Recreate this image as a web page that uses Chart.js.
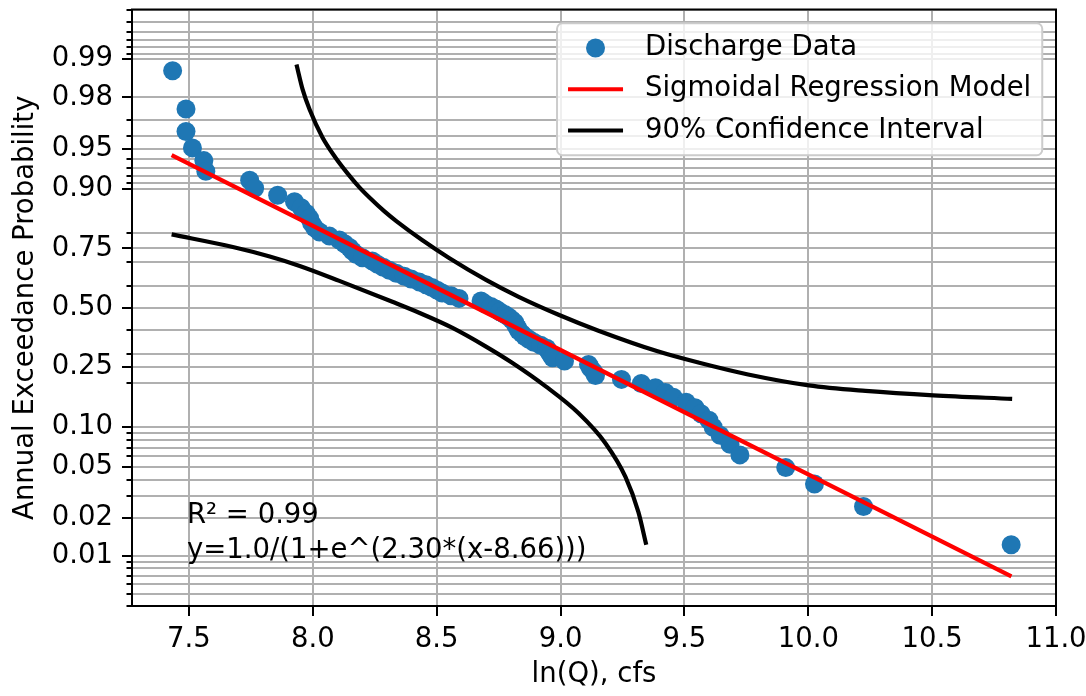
<!DOCTYPE html>
<html>
<head>
<meta charset="utf-8">
<title>Annual Exceedance Probability vs ln(Q)</title>
<script src="https://cdn.jsdelivr.net/npm/chart.js@4.4.1/dist/chart.umd.min.js"></script>
<style>
    html, body { margin: 0; padding: 0; background: #ffffff; }
    #wrap { position: relative; width: 1086px; height: 696px; }
</style>
</head>
<body>
<div id="wrap"><canvas id="aepChart"></canvas></div>
<script>
// Values
const lnQ = [
    7.434, 7.488, 7.488, 7.514, 7.560, 7.568, 7.745, 7.765, 7.858, 7.926,
    7.953, 7.973, 7.987, 7.995, 8.007, 8.027, 8.067, 8.107, 8.128, 8.148,
    8.160, 8.176, 8.200, 8.240, 8.260, 8.284, 8.309, 8.337, 8.369, 8.397,
    8.429, 8.457, 8.481, 8.502, 8.522, 8.558, 8.590, 8.679, 8.695, 8.719,
    8.739, 8.755, 8.775, 8.791, 8.803, 8.815, 8.819, 8.827, 8.831, 8.844,
    8.856, 8.872, 8.892, 8.920, 8.944, 8.952, 8.960, 8.968, 9.016, 9.113,
    9.121, 9.133, 9.141, 9.246, 9.326, 9.383, 9.423, 9.455, 9.507, 9.543,
    9.567, 9.599, 9.616, 9.644, 9.684, 9.724, 9.909, 10.025, 10.223, 10.819
];
const aep = [
    0.9877, 0.9753, 0.9630, 0.9506, 0.9383, 0.9259, 0.9136, 0.9012, 0.8889, 0.8765,
    0.8642, 0.8519, 0.8395, 0.8272, 0.8148, 0.8025, 0.7901, 0.7778, 0.7654, 0.7531,
    0.7407, 0.7284, 0.7160, 0.7037, 0.6914, 0.6790, 0.6667, 0.6543, 0.6420, 0.6296,
    0.6173, 0.6049, 0.5926, 0.5802, 0.5679, 0.5556, 0.5432, 0.5309, 0.5185, 0.5062,
    0.4938, 0.4815, 0.4691, 0.4568, 0.4444, 0.4321, 0.4198, 0.4074, 0.3951, 0.3827,
    0.3704, 0.3580, 0.3457, 0.3333, 0.3210, 0.3086, 0.2963, 0.2840, 0.2716, 0.2593,
    0.2469, 0.2346, 0.2222, 0.2099, 0.1975, 0.1852, 0.1728, 0.1605, 0.1481, 0.1358,
    0.1235, 0.1111, 0.0988, 0.0864, 0.0741, 0.0617, 0.0494, 0.0370, 0.0247, 0.0123
];

const modelLnQ = [7.43, 8.66, 10.82];
const modelAep = [0.944, 0.5, 0.0069];

const ciUpperLnQ = [7.934, 7.959, 7.987, 8.039, 8.091, 8.140, 8.188, 8.236, 8.288, 8.337, 8.441,
    8.550, 8.699, 8.831, 8.992, 9.153, 9.395, 9.556, 9.757, 10.002, 10.231, 10.505, 10.823];
const ciUpperAep = [0.9890, 0.9826, 0.9751, 0.9589, 0.9416, 0.9232, 0.9027, 0.8815, 0.8565, 0.8323, 0.7777,
    0.7153, 0.6262, 0.5505, 0.4678, 0.3956, 0.3079, 0.2664, 0.2255, 0.1922, 0.1768, 0.1651, 0.1564];

const ciLowerLnQ = [7.430, 7.677, 7.826, 7.947, 8.107, 8.321, 8.429, 8.562, 8.699, 8.803,
    8.940, 9.073, 9.181, 9.262, 9.314, 9.346];
const ciLowerAep = [0.7953, 0.7546, 0.7207, 0.6842, 0.6218, 0.5275, 0.4770, 0.4090, 0.3278, 0.2664,
    0.1893, 0.1243, 0.0755, 0.0419, 0.0224, 0.0123];

const xTicks = [7.5, 8.0, 8.5, 9.0, 9.5, 10.0, 10.5, 11.0];
const yMajorTicks = [0.01, 0.02, 0.05, 0.10, 0.25, 0.50, 0.75, 0.90, 0.95, 0.98, 0.99];
const yMinorTicks = [0.004, 0.005, 0.006, 0.007, 0.008, 0.009, 0.03, 0.04, 0.06, 0.07, 0.08, 0.09,
    0.2, 0.3, 0.4, 0.6, 0.7, 0.8, 0.91, 0.92, 0.93, 0.94, 0.96, 0.97,
    0.991, 0.992, 0.993, 0.994, 0.995, 0.996];

const fitText = ['R\u00b2 = 0.99', 'y=1.0/(1+e^(2.30*(x-8.66)))'];

const FONT = '"DejaVu Sans", "Liberation Sans", sans-serif';
const FONT_SIZE = 27.5;
const GRID = '#b0b0b0';

const logit = p => Math.log(p / (1 - p));
const expit = z => 1 / (1 + Math.exp(-z));

// Probability axis: linear in logit space, like matplotlib's 'logit' scale
class LogitScale extends Chart.LinearScale {
    static id = 'logit';
    static defaults = {};

    determineDataLimits() {
        this.min = logit(this.options.min);
        this.max = logit(this.options.max);
    }

    buildTicks() {
        return yMajorTicks.concat(yMinorTicks)
            .sort((a, b) => a - b)
            .map(v => ({ value: v }));
    }

    getPixelForValue(value) {
        if (value === null || value === undefined) return NaN;
        return super.getPixelForValue(logit(value));
    }

    getValueForPixel(pixel) {
        return expit(super.getValueForPixel(pixel));
    }

    getBasePixel() {
        return this.getPixelForDecimal(0);
    }
}
Chart.register(LogitScale);

const toPoints = (xs, ys) => xs.map((x, i) => ({ x: x, y: ys[i] }));

// keep the plot box where the reference has it
function fixSize(scale, prop, size) {
    scale[prop] = size;
    scale.paddingTop = 0;
    scale.paddingBottom = 0;
    scale.paddingLeft = 0;
    scale.paddingRight = 0;
}

// Spines, tick marks, fit text and legend box (matplotlib look)
const decorations = {
    id: 'decorations',
    afterDraw(chart) {
        const { ctx, chartArea: a, scales: { x, y } } = chart;
        ctx.save();

        ctx.strokeStyle = '#000';
        ctx.lineWidth = 2;
        ctx.strokeRect(a.left, a.top, a.right - a.left, a.bottom - a.top);

        ctx.beginPath();
        y.ticks.forEach(t => {
            const py = Math.round(y.getPixelForValue(t.value));
            const len = yMajorTicks.includes(t.value) ? 10 : 5.5;
            ctx.moveTo(a.left - len, py);
            ctx.lineTo(a.left, py);
        });
        x.ticks.forEach(t => {
            const px = Math.round(x.getPixelForValue(t.value));
            ctx.moveTo(px, a.bottom);
            ctx.lineTo(px, a.bottom + 10);
        });
        ctx.stroke();

        // fit annotation
        ctx.fillStyle = '#000';
        ctx.font = FONT_SIZE + 'px ' + FONT;
        ctx.textAlign = 'left';
        ctx.textBaseline = 'alphabetic';
        const tx = x.getPixelForValue(7.5) - 2;
        ctx.fillText(fitText[0], tx, a.bottom - 83);
        ctx.fillText(fitText[1], tx, a.bottom - 48);

        // legend
        const items = chart.data.datasets.filter(d => d.label);
        const pad = 0.4 * FONT_SIZE;
        const handleLen = 2 * FONT_SIZE;
        const textGap = 0.8 * FONT_SIZE;
        const rowGap = 0.5 * FONT_SIZE;
        let textW = 0;
        items.forEach(d => { textW = Math.max(textW, ctx.measureText(d.label).width); });
        const boxW = pad * 2 + handleLen + textGap + textW;
        const boxH = pad * 2 + items.length * FONT_SIZE + (items.length - 1) * rowGap;
        const bx = a.right - 0.5 * FONT_SIZE - boxW;
        const by = a.top + 0.5 * FONT_SIZE;
        const r = 0.2 * FONT_SIZE;

        ctx.beginPath();
        ctx.moveTo(bx + r, by);
        ctx.arcTo(bx + boxW, by, bx + boxW, by + boxH, r);
        ctx.arcTo(bx + boxW, by + boxH, bx, by + boxH, r);
        ctx.arcTo(bx, by + boxH, bx, by, r);
        ctx.arcTo(bx, by, bx + boxW, by, r);
        ctx.closePath();
        ctx.fillStyle = 'rgba(255,255,255,0.8)';
        ctx.fill();
        ctx.strokeStyle = '#cccccc';
        ctx.lineWidth = 2;
        ctx.stroke();

        items.forEach((d, i) => {
            const cy = by + pad + FONT_SIZE / 2 + i * (FONT_SIZE + rowGap);
            const hx = bx + pad;
            if (d.showLine === false) {
                ctx.beginPath();
                ctx.arc(hx + handleLen / 2, cy, d.pointRadius, 0, Math.PI * 2);
                ctx.fillStyle = d.pointBackgroundColor;
                ctx.fill();
            } else {
                ctx.beginPath();
                ctx.moveTo(hx, cy);
                ctx.lineTo(hx + handleLen, cy);
                ctx.strokeStyle = d.borderColor;
                ctx.lineWidth = d.borderWidth;
                ctx.stroke();
            }
            ctx.fillStyle = '#000';
            ctx.textBaseline = 'middle';
            ctx.fillText(d.label, hx + handleLen + textGap, cy);
        });

        ctx.restore();
    }
};

Chart.defaults.font.family = FONT;
Chart.defaults.font.size = FONT_SIZE;
Chart.defaults.color = '#000';

const ctx = document.getElementById('aepChart').getContext('2d');
const aepChart = new Chart(ctx, {
    type: 'scatter',
    data: {
        datasets: [
            {
                label: 'Discharge Data',
                data: toPoints(lnQ, aep),
                showLine: false,
                pointRadius: 9.5,
                pointBorderWidth: 0,
                pointBackgroundColor: '#1f77b4',
                pointBorderColor: '#1f77b4',
                order: 3
            },
            {
                label: 'Sigmoidal Regression Model',
                type: 'line',
                data: toPoints(modelLnQ, modelAep),
                borderColor: '#ff0000',
                borderWidth: 4.2,
                pointRadius: 0,
                tension: 0,
                fill: false,
                order: 1
            },
            {
                label: '90% Confidence Interval',
                type: 'line',
                data: toPoints(ciUpperLnQ, ciUpperAep),
                borderColor: '#000000',
                borderWidth: 4.2,
                pointRadius: 0,
                cubicInterpolationMode: 'monotone',
                fill: false,
                order: 2
            },
            {
                label: '',
                type: 'line',
                data: toPoints(ciLowerLnQ, ciLowerAep),
                borderColor: '#000000',
                borderWidth: 4.2,
                pointRadius: 0,
                cubicInterpolationMode: 'monotone',
                fill: false,
                order: 2
            }
        ]
    },
    options: {
        responsive: true,
        maintainAspectRatio: false,
        devicePixelRatio: 1,
        animation: false,
        events: [],
        layout: { padding: { top: 7, right: 30, left: 0, bottom: 0 } },
        plugins: {
            legend: { display: false },
            tooltip: { enabled: false }
        },
        scales: {
            x: {
                type: 'linear',
                min: 7.27,
                max: 11.0,
                bounds: 'data',
                afterBuildTicks: scale => { scale.ticks = xTicks.map(v => ({ value: v })); },
                afterFit: scale => fixSize(scale, 'height', 90),
                grid: { color: GRID, lineWidth: 2, drawTicks: false },
                border: { display: false },
                ticks: {
                    autoSkip: false,
                    maxRotation: 0,
                    padding: 17,
                    callback: v => Number(v).toFixed(1)
                },
                title: {
                    display: true,
                    text: 'ln(Q), cfs',
                    padding: { top: 0, bottom: 5 }
                }
            },
            y: {
                type: 'logit',
                min: 0.004,
                max: 0.996,
                bounds: 'data',
                afterFit: scale => fixSize(scale, 'width', 132),
                grid: { color: GRID, lineWidth: 2, drawTicks: false },
                border: { display: false },
                ticks: {
                    autoSkip: false,
                    padding: 19,
                    callback: v => (yMajorTicks.includes(v) ? v.toFixed(2) : '')
                },
                title: {
                    display: true,
                    text: 'Annual Exceedance Probability',
                    padding: { top: 9, bottom: 0 }
                }
            }
        }
    },
    plugins: [decorations]
});
</script>
</body>
</html>
